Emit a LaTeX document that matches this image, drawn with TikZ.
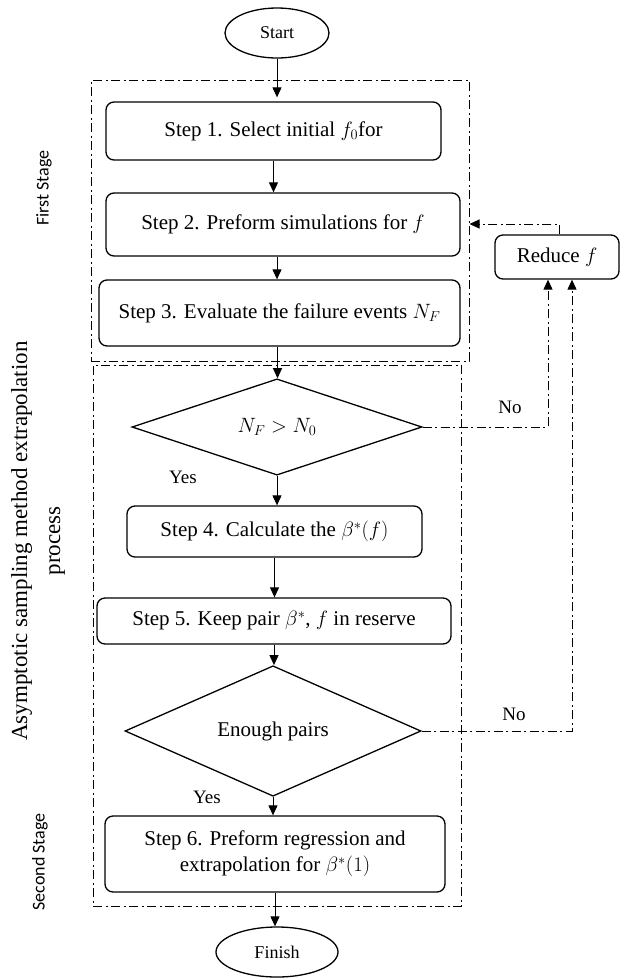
\documentclass[tikz,border=0pt]{standalone}
\usepackage{fontspec}
\setmainfont{Liberation Serif}
\newfontfamily\labsans{Carlito}
\usetikzlibrary{arrows.meta,shapes.geometric,calc}
\begin{document}
\begin{tikzpicture}[x=1pt,y=-1pt,
  every node/.style={inner sep=0pt},
  stepbox/.style={draw,line width=1.3pt,rounded corners=8pt,font=\fontsize{21}{26}\selectfont,align=center},
  term/.style={draw,line width=1.3pt,ellipse,font=\fontsize{18}{22}\selectfont},
  decision/.style={draw,line width=1.3pt,diamond,font=\fontsize{21}{26}\selectfont},
  stagebox/.style={draw,line width=1pt,dash pattern=on 9pt off 3.5pt on 2pt off 3.5pt},
  arr/.style={line width=1pt,-{Triangle[length=10pt,width=9pt]}},
  dda/.style={line width=1pt,dash pattern=on 9pt off 3.5pt on 2pt off 3.5pt,-{Triangle[length=10pt,width=9pt]}},
  lab/.style={font=\fontsize{19}{23}\selectfont},
  sidelab/.style={rotate=90,font=\labsans\fontsize{18}{22}\selectfont}
]
\useasboundingbox (0,0) rectangle (628,978);
% stage boxes
\node[stagebox,minimum width=378pt,minimum height=281pt] (stage1) at (280,220.5) {};
\node[stagebox,minimum width=368pt,minimum height=541pt] (stage2) at (277,635.5) {};
% flow nodes
\node[term,minimum width=104pt,minimum height=50pt] (start) at (277,33) {Start};
\node[stepbox,minimum width=335pt,minimum height=58pt] (s1) at (273.5,131) {Step 1. Select initial $f_0$for};
\node[stepbox,minimum width=354pt,minimum height=63pt] (s2) at (283,224.5) {Step 2. Preform simulations for $f$};
\node[stepbox,minimum width=361pt,minimum height=66pt] (s3) at (279.5,313) {Step 3. Evaluate the failure events $N_F$};
\node[decision,minimum width=290pt,minimum height=94pt] (d1) at (277,427) {$N_F > N_0$};
\node[stepbox,minimum width=295pt,minimum height=51pt] (s4) at (274.5,531.5) {Step 4. Calculate the $\beta^*(f)$};
\node[stepbox,minimum width=354pt,minimum height=46pt] (s5) at (274,621) {Step 5. Keep pair $\beta^*$, $f$ in reserve};
\node[decision,minimum width=296pt,minimum height=89pt] (d2) at (273,731) {Enough pairs};
\node[stepbox,minimum width=340pt,minimum height=76pt] (s6) at (275,854) {Step 6. Preform regression and\\extrapolation for $\beta^*(1)$};
\node[term,minimum width=122pt,minimum height=50pt] (fin) at (277,952) {Finish};
\node[stepbox,minimum width=124pt,minimum height=44pt] (red) at (557,257) {Reduce $f$};
% labels
\node[lab] (no1) at (510,407) {No};
\node[lab] (no2) at (514,714) {No};
\node[lab] (yes1) at (183,477) {Yes};
\node[lab] (yes2) at (207,797) {Yes};
\node[sidelab] (fs) at (44,188) {First Stage};
\node[sidelab] (ss) at (40,862) {Second Stage};
\node[rotate=90,align=center,font=\fontsize{23}{33}\selectfont] (asm) at (38,541) {Asymptotic sampling method extrapolation\\process};
% arrows
\draw[arr,shorten >=4pt] (start.south) -- (start.south |- s1.north);
\draw[arr] (s1.south) -- (s1.south |- s2.north);
\draw[arr] ([xshift=-6pt]s2.south) -- ([xshift=-6pt]s2.south |- s3.north);
\draw[arr] ([xshift=-2pt]s3.south) -- ([xshift=-2pt]s3.south |- d1.north);
\draw[arr] (d1.south) -- (d1.south |- s4.north);
\draw[arr] (s4.south) -- (s4.south |- s5.north);
\draw[arr] (s5.south) -- (s5.south |- d2.north);
\draw[arr] (d2.south) -- (d2.south |- s6.north);
\draw[arr] (s6.south) -- (s6.south |- fin.north);
% feedback
\coordinate (rj) at (559,224);
\draw[dda] (red.north -| rj) -- (rj) -- (rj -| stage1.east);
\coordinate (n1) at (548,427);
\draw[dda] (d1.east) -- (n1) -- (n1 |- red.south);
\coordinate (n2) at (572,731);
\draw[dda] (d2.east) -- (n2) -- (n2 |- red.south);
\end{tikzpicture}
\end{document}
